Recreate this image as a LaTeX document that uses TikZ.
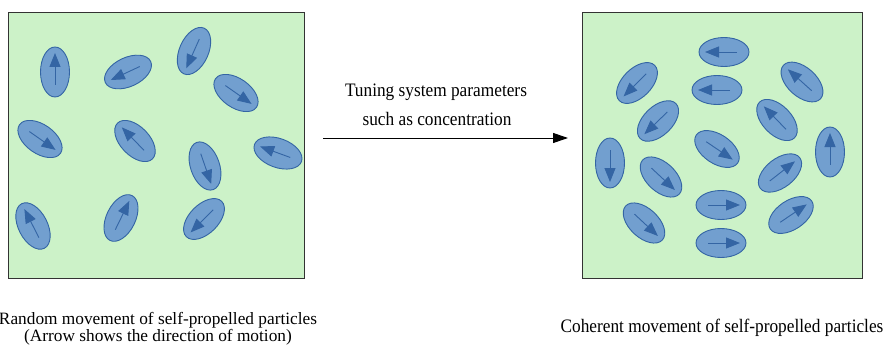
\documentclass[tikz,border=0pt]{standalone}
\usepackage{fontspec}
\setmainfont{Liberation Serif}
\usetikzlibrary{arrows.meta}
\definecolor{bggreen}{HTML}{CCF2C8}
\definecolor{pfillc}{HTML}{729FCF}
\definecolor{pdrawc}{HTML}{3465A4}
\definecolor{boxline}{HTML}{333333}
\newcommand\lblfont{\fontsize{17.3}{17}\selectfont\lineskiplimit=-30pt\relax}
\tikzset{
  panel/.style={fill=bggreen,draw=boxline,line width=1pt},
  pbody/.style={fill=pfillc,draw=pdrawc,line width=0.9pt},
  parrow/.style={draw=pdrawc,line width=0.9pt,-{Triangle[length=14pt,width=11pt]}},
  bigarrow/.style={draw=black,line width=1pt,-{Triangle[length=15pt,width=10pt]}},
  lbl/.style={inner sep=0pt,font=\lblfont}
}
\newcommand\ptcl[3]{%
  \begin{scope}[shift={(#1,#2)},rotate=#3]
    \draw[pbody] (0,0) ellipse [x radius=25, y radius=14.5];
    \draw[parrow] (-13,0) -- (19,0);
  \end{scope}}
\newcommand\tall[1]{\scalebox{1}[1.1]{#1}}
\begin{document}
\begin{tikzpicture}[x=1pt,y=-1pt]
\useasboundingbox (0,0) rectangle (887,345);
% panels
\draw[panel] (8,13) rectangle (304,278);
\draw[panel] (582,13) rectangle (862,278);
% left particles (random)
\ptcl{55}{72}{90}
\ptcl{128}{72}{205}
\ptcl{194}{51}{246}
\ptcl{236}{93}{325}
\ptcl{40}{139}{325}
\ptcl{135}{141}{134}
\ptcl{205}{166}{289}
\ptcl{278}{153}{160}
\ptcl{33}{226}{117}
\ptcl{121}{218}{64}
\ptcl{204}{219}{225}
% right particles (coherent)
\ptcl{724}{52}{180}
\ptcl{717}{90}{180}
\ptcl{637}{83}{225}
\ptcl{802}{82}{138}
\ptcl{658}{121}{224}
\ptcl{777}{120}{134}
\ptcl{717}{149}{326}
\ptcl{610}{163}{270}
\ptcl{661}{177}{317}
\ptcl{780}{173}{38}
\ptcl{830}{152}{90}
\ptcl{721}{205}{0}
\ptcl{644}{223}{317}
\ptcl{791}{215}{34}
\ptcl{721}{243}{0}
% transition arrow and labels
\coordinate (arrS) at (323,138);
\coordinate (arrE) at (568,138);
\draw[bigarrow] (arrS) -- (arrE);
\node[lbl,anchor=base] (tune1) at (436,96.5) {\tall{Tuning system parameters}};
\node[lbl,anchor=base] (tune2) at (437,125) {\tall{such as concentration}};
\node[lbl,anchor=base,align=center] (rand) at (158,341)
  {Random movement of self-propelled particles\\(Arrow shows the direction of motion)};
\node[lbl,anchor=base] (coh) at (722,332) {\tall{Coherent movement of self-propelled particles}};
\end{tikzpicture}
\end{document}
